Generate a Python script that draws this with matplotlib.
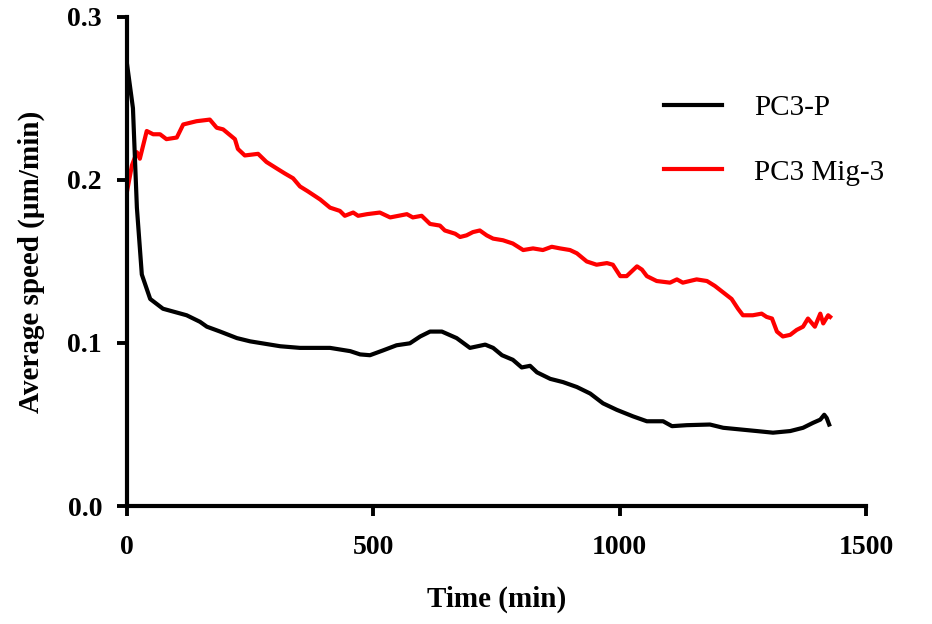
import numpy as np
import matplotlib
matplotlib.use("Agg")
import matplotlib.pyplot as plt

# PC3-P (black)
t_p = [0, 12, 20, 30, 47, 73, 121, 148, 162, 189, 223, 250, 311, 351, 412, 453,
       473, 493, 520, 547, 574, 595, 615, 639, 669, 696, 727, 743, 761, 783,
       801, 818, 832, 859, 885, 913, 940, 966, 994, 1027, 1055, 1088, 1106,
       1136, 1183, 1210, 1244, 1278, 1311, 1346, 1372, 1392, 1407, 1415, 1420,
       1425]
v_p = [0.271, 0.244, 0.183, 0.142, 0.127, 0.121, 0.117, 0.113, 0.110, 0.107,
       0.103, 0.101, 0.098, 0.097, 0.097, 0.095, 0.093, 0.0925, 0.0955, 0.0986,
       0.0998, 0.104, 0.107, 0.107, 0.103, 0.097, 0.099, 0.097, 0.0925, 0.0897,
       0.085, 0.086, 0.082, 0.078, 0.076, 0.073, 0.069, 0.063, 0.059, 0.055,
       0.052, 0.052, 0.049, 0.0496, 0.050, 0.048, 0.047, 0.046, 0.045, 0.046,
       0.048, 0.051, 0.053, 0.056, 0.054, 0.050]

# PC3 Mig-3 (red)
t_m = [0, 10, 20, 26, 40, 53, 67, 80, 101, 114, 141, 168, 182, 195, 219, 225,
       239, 266, 283, 304, 320, 337, 351, 367, 392, 412, 432, 442, 459, 469,
       487, 513, 534, 568, 580, 598, 615, 635, 645, 666, 676, 689, 702, 716,
       730, 743, 763, 783, 804, 824, 844, 862, 879, 899, 913, 933, 953, 974,
       986, 1001, 1014, 1035, 1045, 1055, 1075, 1102, 1116, 1128, 1156, 1177,
       1193, 1210, 1227, 1240, 1250, 1270, 1288, 1298, 1309, 1319, 1331, 1346,
       1359, 1372, 1382, 1396, 1407, 1413, 1423, 1427]
v_m = [0.193, 0.209, 0.217, 0.213, 0.230, 0.228, 0.228, 0.225, 0.226, 0.234,
       0.236, 0.237, 0.232, 0.231, 0.225, 0.219, 0.215, 0.216, 0.211, 0.207,
       0.204, 0.201, 0.196, 0.193, 0.188, 0.183, 0.181, 0.178, 0.180, 0.178,
       0.179, 0.180, 0.177, 0.179, 0.177, 0.178, 0.173, 0.172, 0.169, 0.167,
       0.165, 0.166, 0.168, 0.169, 0.166, 0.164, 0.163, 0.161, 0.157, 0.158,
       0.157, 0.159, 0.158, 0.157, 0.155, 0.150, 0.148, 0.149, 0.148, 0.141,
       0.141, 0.147, 0.145, 0.141, 0.138, 0.137, 0.139, 0.137, 0.139, 0.138,
       0.135, 0.131, 0.127, 0.121, 0.117, 0.117, 0.118, 0.116, 0.115, 0.107,
       0.104, 0.105, 0.108, 0.110, 0.115, 0.110, 0.118, 0.112, 0.117, 0.116]

x_ticks = [0, 500, 1000, 1500]
y_ticks = [0.0, 0.1, 0.2, 0.3]

plt.rcParams["font.family"] = ["Liberation Serif", "DejaVu Serif"]

fig = plt.figure(figsize=(9.32, 6.24), dpi=100)
ax = fig.add_axes([0.1363, 0.189, 0.793, 0.784])

ax.plot(t_p, v_p, color="black", lw=3.0, label="PC3-P", zorder=3)
ax.plot(t_m, v_m, color="#ff0000", lw=3.0, label="PC3 Mig-3", zorder=2)

ax.set_xlim(0, 1500)
ax.set_ylim(0, 0.3)
ax.set_xticks(x_ticks)
ax.set_yticks(y_ticks)
ax.set_yticklabels([f"{v:.1f}" for v in y_ticks])

for s in ["top", "right"]:
    ax.spines[s].set_visible(False)
for s in ["left", "bottom"]:
    ax.spines[s].set_linewidth(3.0)
ax.tick_params(axis="both", direction="out", length=7, width=2.8,
               labelsize=20)
ax.tick_params(axis="x", pad=14)
ax.tick_params(axis="y", pad=11)
for lbl in ax.get_xticklabels() + ax.get_yticklabels():
    lbl.set_fontweight("bold")

ax.set_xlabel("Time (min)", fontsize=21, fontweight="bold", labelpad=18)
ax.set_ylabel("Average speed (µm/min)", fontsize=21, fontweight="bold",
              labelpad=16)

ax.legend(frameon=False, loc="upper left", bbox_to_anchor=(0.684, 0.89),
          bbox_transform=fig.transFigure, fontsize=21, handlelength=2.0,
          handletextpad=1.1, labelspacing=1.3)

fig.savefig("out.png", dpi=100)
